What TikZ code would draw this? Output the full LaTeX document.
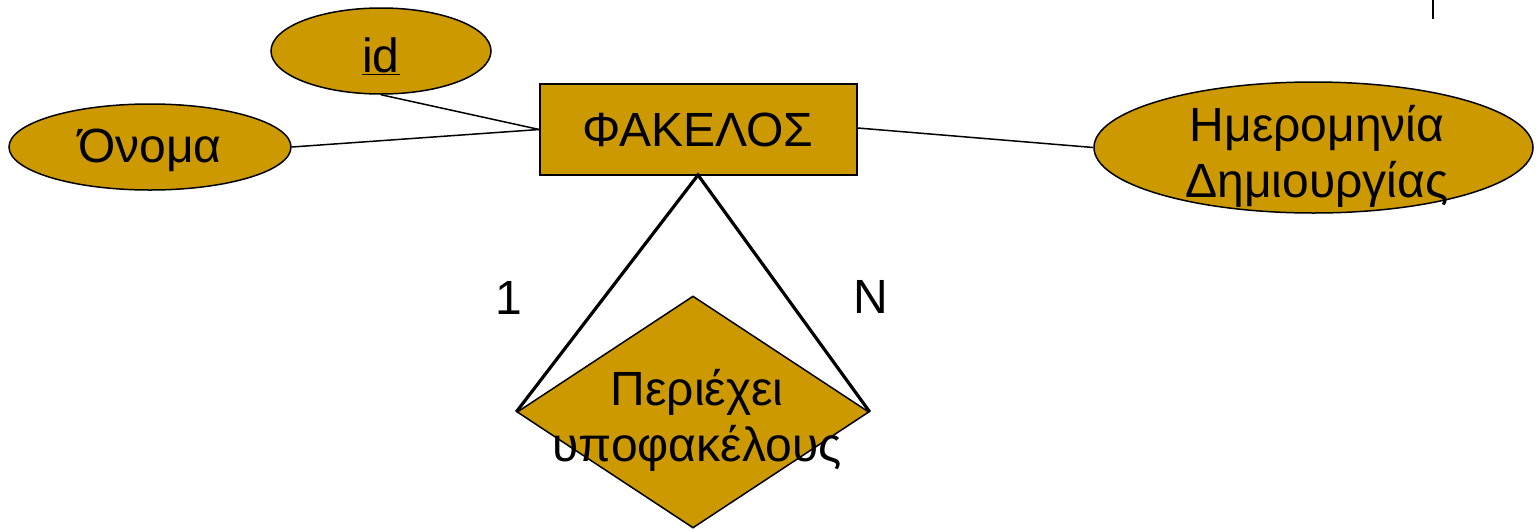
\documentclass[tikz,border=0pt]{standalone}
\usepackage{fontspec}
\setmainfont{Liberation Sans}
\usetikzlibrary{shapes.geometric}
\definecolor{gold}{HTML}{CC9900}
\tikzset{
  txt/.style={font=\fontsize{48}{56}\selectfont, inner sep=0pt, align=center},
  attr/.style={ellipse, draw=black, line width=1.5pt, fill=gold, inner sep=0pt},
  ent/.style={rectangle, draw=black, line width=1.5pt, fill=gold, inner sep=0pt},
  rel/.style={diamond, draw=black, line width=1.5pt, fill=gold, inner sep=0pt},
  thin/.style={line width=1.5pt},
  thick/.style={line width=3.2pt}
}
\begin{document}
\begin{tikzpicture}[x=1pt,y=-1pt]
\useasboundingbox (0,0) rectangle (1537,531);
% entity
\node[ent, minimum width=317pt, minimum height=91pt] (fak) at (698.5,129.5) {};
\node[txt] (fakt) at (698,130) {ΦΑΚΕΛΟΣ};
% attributes
\node[attr, minimum width=220pt, minimum height=86pt] (id) at (381,51) {};
\node[txt] (idt) at (381,56) {\underline{id}};
\node[attr, minimum width=282pt, minimum height=86pt] (on) at (150,147) {};
\node[txt] (ont) at (150,150) {Όνομα};
\node[attr, minimum width=439pt, minimum height=131pt] (date) at (1313.5,147.5) {};
\node[txt] (datet) at (1317,156) {Ημερομηνία\\Δημιουργίας};
% relationship
\node[rel, minimum width=352pt, minimum height=232pt] (rel) at (693,412) {};
\node[txt] (relt) at (697,420) {Περιέχει\\υποφακέλους};
% connectors
\coordinate (fb) at (698,175);
\draw[thin] (id.south) -- (fak.west);
\draw[thin] (on.east) -- (fak.west);
\draw[thin] (fak.east |- 0,128) coordinate (fe) -- (date.west);
\draw[thick, line join=miter] (rel.west) -- (fb) -- (rel.east);
% cardinalities
\node[txt] (one) at (509,298) {1};
\node[txt] (n) at (871,297) {N};
% small mark top right
\coordinate (m1) at (1433,0);
\coordinate (m2) at (1433,19);
\draw[line width=2pt] (m1) -- (m2);
\end{tikzpicture}
\end{document}
